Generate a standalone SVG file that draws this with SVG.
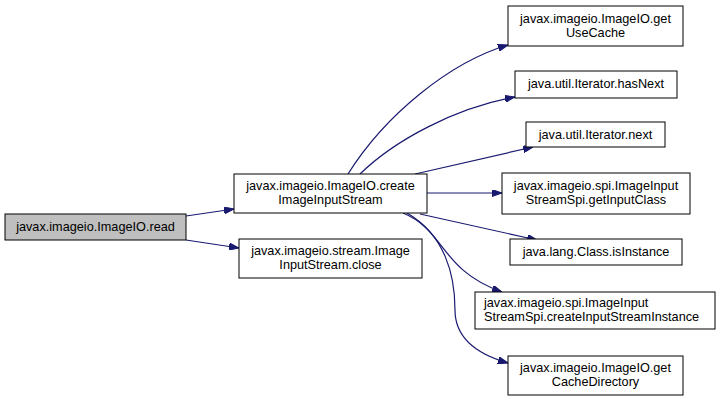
<svg xmlns="http://www.w3.org/2000/svg" width="723" height="403" viewBox="0 0 723 403">
<defs>
<style>
.box{fill:#ffffff;stroke:#000000;stroke-width:1}
.cur{fill:#bfbfbf;stroke:#000000;stroke-width:1}
text{font-family:"Liberation Sans",Arial,sans-serif;font-size:12.7px;fill:#000000;text-anchor:middle}
.edge{fill:none;stroke:#191970;stroke-width:1.2;marker-end:url(#arr)}
</style>
<marker id="arr" viewBox="0 0 10 7" refX="10" refY="3.5" markerWidth="10" markerHeight="7" markerUnits="userSpaceOnUse" orient="auto">
<path d="M0,0 L10,3.5 L0,7 z" fill="#191970" stroke="#191970"/>
</marker>
</defs>
<rect width="723" height="403" fill="#ffffff"/>
<g id="connectors">
<path class="edge" d="M186,216 L234,209"/>
<path class="edge" d="M186,240 L239,248"/>
<path class="edge" d="M348,174 C385,115 450,62 508,45"/>
<path class="edge" d="M360,174 C395,140 455,108 515,97"/>
<path class="edge" d="M415,174 L533,147"/>
<path class="edge" d="M427,193 L502,193"/>
<path class="edge" d="M420,214 L537,240"/>
<path class="edge" d="M403,213 C445,230 440,270 502,292"/>
<path class="edge" d="M407,213 C445,235 455,275 455,310 C455,340 480,355 508,363"/>
</g>
<g id="read">
<rect class="cur" x="5" y="214" width="181" height="26"/>
<text x="95.5" y="231">javax.imageio.ImageIO.read</text>
</g>
<g id="createImageInputStream">
<rect class="box" x="234" y="174" width="193" height="39"/>
<text x="330.5" y="190">javax.imageio.ImageIO.create</text>
<text x="330.5" y="204">ImageInputStream</text>
</g>
<g id="close">
<rect class="box" x="239" y="239" width="183" height="39"/>
<text x="330.5" y="255">javax.imageio.stream.Image</text>
<text x="330.5" y="269">InputStream.close</text>
</g>
<g id="getUseCache">
<rect class="box" x="508" y="6" width="175" height="40"/>
<text x="595.5" y="22.5">javax.imageio.ImageIO.get</text>
<text x="595.5" y="36.5">UseCache</text>
</g>
<g id="hasNext">
<rect class="box" x="515" y="71" width="162" height="27"/>
<text x="596" y="88">java.util.Iterator.hasNext</text>
</g>
<g id="next">
<rect class="box" x="526" y="122" width="139" height="25"/>
<text x="595.5" y="138.5">java.util.Iterator.next</text>
</g>
<g id="getInputClass">
<rect class="box" x="502" y="173" width="188" height="41"/>
<text x="596" y="190">javax.imageio.spi.ImageInput</text>
<text x="596" y="204">StreamSpi.getInputClass</text>
</g>
<g id="isInstance">
<rect class="box" x="510" y="239" width="172" height="26"/>
<text x="596" y="256">java.lang.Class.isInstance</text>
</g>
<g id="createInputStreamInstance">
<rect class="box" x="475" y="292" width="240" height="37"/>
<text x="484" y="307" style="text-anchor:start">javax.imageio.spi.ImageInput</text>
<text x="484" y="321" style="text-anchor:start">StreamSpi.createInputStreamInstance</text>
</g>
<g id="getCacheDirectory">
<rect class="box" x="508" y="356" width="175" height="39"/>
<text x="595.5" y="372">javax.imageio.ImageIO.get</text>
<text x="595.5" y="386">CacheDirectory</text>
</g>
</svg>
